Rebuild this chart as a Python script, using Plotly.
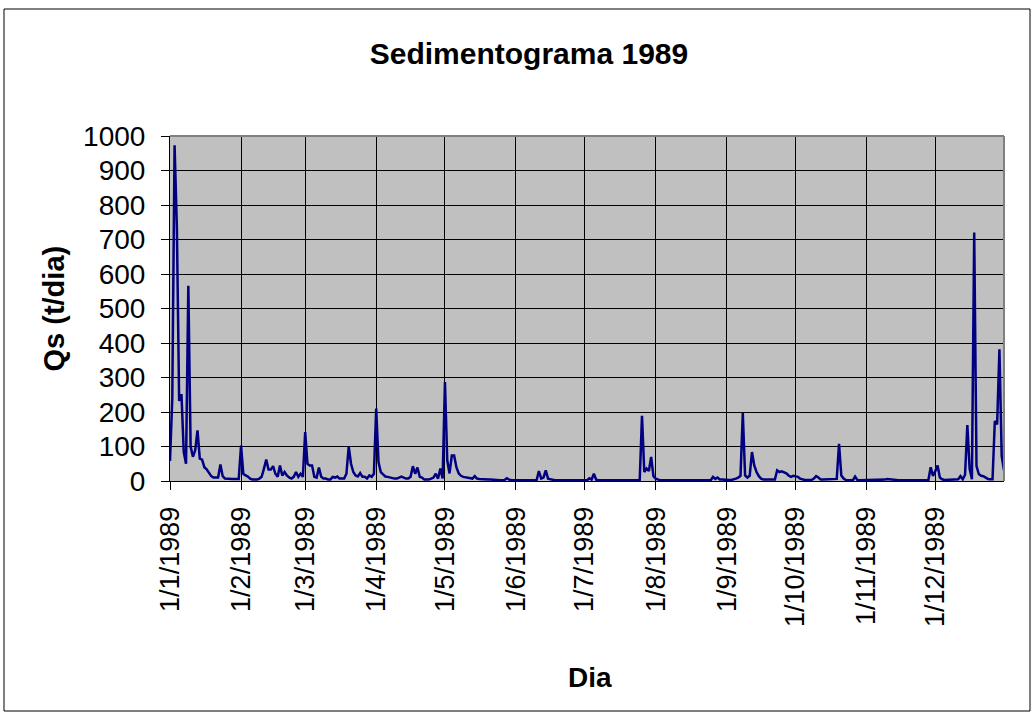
import pandas as pd
import plotly.graph_objects as go

# Daily suspended sediment discharge Qs (t/dia), 1989
jan = [58, 240, 973, 736, 232, 252, 84, 50, 566, 100, 70, 89, 147, 65, 62, 40, 34, 24, 14, 10,
       10, 10, 48, 14, 7, 6, 6, 6, 6, 6, 6]
feb = [103, 21, 16, 13, 7, 4, 4, 4, 7, 12, 36, 62, 33, 33, 43, 21, 12, 45, 16, 26,
       16, 10, 7, 12, 26, 12, 21, 12]
mar = [142, 50, 45, 45, 12, 10, 39, 12, 7, 7, 4, 4, 12, 10, 13, 7, 7, 7, 21, 100,
       50, 26, 16, 13, 23, 12, 12, 7, 16, 12, 21]
apr = [210, 55, 26, 19, 13, 12, 10, 7, 7, 7, 10, 13, 10, 7, 7, 12, 43, 21, 39, 12,
       10, 4, 4, 4, 7, 10, 21, 7, 36, 7]
may = [287, 60, 22, 74, 74, 40, 22, 15, 12, 11, 10, 8, 7, 14, 7, 6, 5, 4, 4, 4,
       4, 3, 3, 2, 2, 2, 3, 8, 4, 3, 2]
jun = [2, 2, 2, 2, 2, 2, 2, 2, 2, 2, 29, 7, 10, 31, 7, 5, 3, 2, 2, 2,
       2, 2, 2, 2, 2, 2, 2, 2, 2, 2]
jul = [2, 2, 8, 4, 21, 4, 2, 2, 2, 2, 2, 2, 2, 2, 2, 2, 2, 2, 2, 2,
       2, 2, 2, 2, 2, 189, 26, 36, 29, 70, 14]
aug = [7, 4, 2, 2, 2, 2, 2, 2, 2, 2, 2, 2, 2, 2, 2, 2, 2, 2, 2, 2,
       2, 2, 2, 2, 2, 12, 6, 10, 4, 4, 3]
sep = [4, 3, 3, 4, 7, 10, 15, 197, 16, 10, 15, 84, 45, 26, 14, 7, 4, 4, 4, 4,
       4, 4, 31, 26, 28, 26, 22, 16, 12, 15]
oct_ = [14, 12, 7, 4, 3, 3, 3, 3, 7, 14, 10, 4, 4, 4, 4, 4, 4, 4, 6, 108,
        16, 7, 3, 2, 2, 2, 13, 3, 2, 2, 2]
nov = [2, 2, 2, 2, 2, 2, 2, 2, 4, 6, 5, 4, 2, 2, 2, 2, 2, 2, 2, 2,
       3, 2, 2, 2, 2, 2, 2, 3, 40, 15]
dec = [28, 45, 10, 5, 3, 3, 3, 4, 5, 5, 5, 14, 5, 18, 162, 35, 5, 720, 43, 20,
       15, 14, 10, 6, 5, 5, 174, 164, 382, 72, 31]

qs = jan + feb + mar + apr + may + jun + jul + aug + sep + oct_ + nov + dec
dias = pd.date_range("1989-01-01", periods=len(qs), freq="D")

title_text = "Sedimentograma 1989"
y_title = "Qs (t/dia)"
x_title = "Dia"

FONT = "Liberation Sans, Arial, sans-serif"

# plot-area pixel frame
L, R, T, B = 170, 1004, 136, 481
W, H = 1036, 721

def px(xp):
    return (xp - L) / (R - L)

def py(yp):
    return (B - yp) / (B - T)

fig = go.Figure()
fig.add_trace(go.Scatter(x=dias, y=qs, mode="lines",
                         line=dict(color="#000080", width=2.5), showlegend=False))

fig.update_layout(
    width=W, height=H,
    margin=dict(l=L, r=W - R, t=T, b=H - B),
    paper_bgcolor="white",
    plot_bgcolor="#C0C0C0",
    font=dict(family=FONT, color="black", size=28),
    title=dict(text="<b>" + title_text + "</b>", x=529 / W, xref="container",
               y=1 - 53 / H, yref="container", xanchor="center", yanchor="middle",
               font=dict(size=30, family=FONT, color="black")),
    xaxis=dict(
        type="date",
        range=["1989-01-01", "1989-12-31"],
        tick0="1989-01-01", dtick="M1",
        tickformat="%-d/%-m/%Y",
        tickangle=-90,
        ticks="outside", ticklen=8, tickcolor="black", tickwidth=1,
        ticklabelstandoff=6,
        showgrid=True, gridcolor="black", gridwidth=1,
        showline=True, linecolor="black", linewidth=1,
        zeroline=False,
        tickfont=dict(size=27, family=FONT, color="black"),
    ),
    yaxis=dict(
        range=[0, 1000], dtick=100, tick0=0,
        ticks="outside", ticklen=8, tickcolor="black", tickwidth=1,
        ticklabelstandoff=10,
        showgrid=True, gridcolor="black", gridwidth=1,
        showline=True, linecolor="black", linewidth=1,
        zeroline=False,
        tickfont=dict(size=28, family=FONT, color="black"),
    ),
    annotations=[
        dict(text="<b>" + y_title + "</b>", x=px(53), y=0.5, xref="paper", yref="paper",
             textangle=-90, showarrow=False, xanchor="center", yanchor="middle",
             font=dict(size=29, family=FONT, color="black")),
        dict(text="<b>" + x_title + "</b>", x=px(590), y=py(677), xref="paper", yref="paper",
             showarrow=False, xanchor="center", yanchor="middle",
             font=dict(size=28, family=FONT, color="black")),
    ],
    shapes=[
        # outer chart border
        dict(type="rect", xref="paper", yref="paper",
             x0=px(4), x1=px(1030), y0=py(711), y1=py(9),
             line=dict(color="black", width=1), fillcolor="rgba(0,0,0,0)", layer="below"),
        # plot-area top and right border (gray)
        dict(type="line", xref="paper", yref="paper", x0=0, x1=1, y0=1, y1=1,
             line=dict(color="#808080", width=2)),
        dict(type="line", xref="paper", yref="paper", x0=1, x1=1, y0=0, y1=1,
             line=dict(color="#808080", width=2)),
    ],
)

fig.write_html("out.html", config={"displayModeBar": False},
               post_script="document.body.style.margin='0';document.body.style.overflow='hidden';")
